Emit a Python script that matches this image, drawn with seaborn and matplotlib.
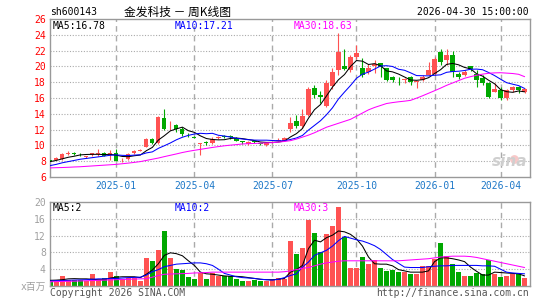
import matplotlib
matplotlib.use("Agg")
import matplotlib.pyplot as plt
import seaborn as sns
import numpy as np
import pandas as pd

# weekly candles (index 0 .. 79)
opens = [8.1, 8.15, 8.3, 8.95, 9.1, 8.9, 8.55, 8.8, 8.95, 9.1,
         8.9, 9.1, 8.1, 8.25, 9.0, 9.35, 9.85, 10.8, 10.35, 13.45,
         12.4, 12.6, 12.05, 11.35, 11.1, 10.2, 10.4, 10.25, 10.95, 11.15,
         11.2, 11.0, 10.5, 10.2, 10.5, 10.25, 10.05, 10.4, 10.6, 10.6,
         12.05, 13.1, 12.4, 13.85, 17.3, 16.4, 15.0, 17.5, 19.55, 20.1,
         19.55, 21.25, 19.75, 19.35, 20.1, 20.4, 19.75, 18.6, 18.4, 18.3,
         18.6, 18.0, 18.3, 18.9, 19.0, 21.85, 20.75, 21.45, 19.1, 18.9,
         20.05, 19.0, 18.5, 17.85, 16.8, 16.95, 16.0, 16.95, 17.45, 16.8]
closes = [8.0, 8.35, 8.9, 9.05, 8.85, 8.85, 8.6, 9.0, 9.05, 8.7,
          9.0, 8.05, 8.2, 8.9, 9.3, 9.45, 10.8, 10.3, 13.55, 12.05,
          12.5, 12.05, 11.4, 11.3, 11.0, 10.3, 10.35, 10.8, 11.05, 11.1,
          11.1, 10.6, 10.45, 10.45, 10.45, 10.2, 10.35, 10.45, 10.7, 11.0,
          12.85, 12.45, 13.7, 17.2, 16.4, 16.1, 17.9, 19.3, 21.85, 19.7,
          21.2, 21.65, 18.9, 19.75, 20.25, 19.95, 18.3, 18.3, 18.35, 18.4,
          18.05, 18.1, 18.7, 19.6, 21.0, 20.5, 21.45, 19.35, 18.7, 19.35,
          19.65, 18.3, 17.85, 16.1, 17.1, 15.95, 17.0, 17.45, 16.95, 17.2]
highs = [8.2, 8.5, 9.0, 9.25, 9.2, 9.0, 8.7, 9.1, 9.6, 9.2,
         9.4, 9.5, 8.35, 9.0, 9.4, 9.6, 10.9, 10.9, 13.7, 14.6,
         13.1, 12.7, 12.3, 11.55, 11.2, 10.35, 10.5, 11.0, 11.25, 11.3,
         11.3, 11.1, 10.6, 10.55, 10.55, 10.3, 10.4, 10.55, 10.9, 11.1,
         13.55, 13.9, 14.55, 17.4, 17.7, 16.9, 18.25, 19.8, 24.25, 22.15,
         21.5, 22.75, 21.0, 20.3, 20.8, 20.45, 19.85, 18.75, 18.6, 18.5,
         18.75, 18.15, 18.85, 20.6, 21.2, 22.2, 22.15, 21.95, 19.3, 19.5,
         20.1, 19.5, 18.9, 18.0, 17.85, 17.4, 17.2, 17.5, 17.5, 17.3]
lows = [7.9, 8.1, 8.2, 8.8, 8.8, 8.7, 8.45, 8.7, 8.7, 8.6,
        8.15, 8.0, 7.9, 8.1, 8.95, 9.3, 9.8, 10.2, 10.2, 11.95,
        11.9, 11.7, 11.2, 11.1, 10.9, 8.8, 10.0, 10.2, 10.8, 10.95,
        10.85, 10.5, 10.15, 10.1, 10.3, 10.0, 9.9, 10.3, 10.5, 10.5,
        11.75, 12.25, 12.2, 13.7, 15.95, 15.35, 14.8, 17.2, 18.9, 19.5,
        19.3, 20.95, 18.7, 19.1, 19.2, 18.7, 18.2, 18.0, 17.65, 17.85,
        17.7, 17.25, 18.2, 18.85, 18.9, 20.2, 20.2, 18.6, 18.35, 18.8,
        19.4, 17.45, 17.6, 16.0, 16.7, 15.8, 15.8, 16.8, 16.6, 16.6]

ma5 = [7.95, 8.1, 8.3, 8.5, 8.63, 8.8, 8.85, 8.87, 8.87, 8.84,
       8.87, 8.76, 8.6, 8.57, 8.69, 8.78, 9.33, 9.75, 10.68, 11.23,
       11.84, 12.09, 12.31, 11.86, 11.65, 11.21, 10.87, 10.75, 10.7, 10.72,
       10.88, 10.93, 10.86, 10.74, 10.61, 10.43, 10.38, 10.38, 10.43, 10.54,
       11.07, 11.49, 12.14, 13.44, 14.52, 15.17, 16.26, 17.38, 18.31, 18.97,
       19.99, 20.74, 20.66, 20.24, 20.35, 20.1, 19.43, 19.31, 19.03, 18.66,
       18.28, 18.24, 18.32, 18.57, 19.09, 19.58, 20.25, 20.38, 20.2, 19.87,
       19.7, 19.07, 18.77, 18.25, 17.8, 17.06, 16.8, 16.72, 16.89, 16.78]
ma10 = [7.45, 7.6, 7.8, 7.95, 8.1, 8.25, 8.35, 8.45, 8.55, 8.65,
        8.75, 8.8, 8.74, 8.72, 8.77, 8.82, 9.05, 9.18, 9.63, 9.96,
        10.31, 10.71, 11.03, 11.27, 11.44, 11.53, 11.48, 11.53, 11.28, 11.19,
        11.05, 10.9, 10.81, 10.72, 10.67, 10.66, 10.66, 10.62, 10.59, 10.58,
        10.75, 10.94, 11.26, 11.94, 12.53, 13.12, 13.88, 14.76, 15.88, 16.75,
        17.58, 18.5, 19.02, 19.28, 19.66, 20.05, 20.09, 19.99, 19.64, 19.51,
        19.19, 18.84, 18.82, 18.8, 18.88, 18.93, 19.25, 19.35, 19.39, 19.48,
        19.64, 19.66, 19.58, 19.23, 18.84, 18.38, 17.94, 17.75, 17.57, 17.21]
ma30 = [7.15, 7.18, 7.2, 7.23, 7.27, 7.3, 7.35, 7.4, 7.45, 7.5,
        7.55, 7.6, 7.68, 7.76, 7.85, 7.95, 8.1, 8.25, 8.4, 8.58,
        8.75, 8.92, 9.1, 9.25, 9.38, 9.5, 9.62, 9.74, 9.85, 9.95,
        10.03, 10.1, 10.18, 10.22, 10.25, 10.28, 10.32, 10.35, 10.42, 10.5,
        10.6, 10.8, 11.05, 11.3, 11.6, 11.95, 12.3, 12.55, 12.8, 13.05,
        13.3, 13.7, 14.1, 14.5, 14.8, 15.05, 15.3, 15.42, 15.52, 15.6,
        15.7, 15.98, 16.28, 16.6, 16.92, 17.25, 17.6, 17.9, 18.2, 18.5,
        18.7, 18.88, 19.02, 19.13, 19.18, 19.2, 19.15, 19.1, 19.0, 18.7]

# volume in millions
volume = [1.2, 1.3, 2.5, 1.5, 1.5, 1.5, 1.2, 2.8, 1.4, 1.8,
          3.4, 2.5, 1.6, 2.0, 2.0, 1.2, 6.6, 5.9, 8.5, 13.2,
          6.6, 4.0, 3.7, 2.1, 1.6, 3.2, 1.6, 3.2, 2.4, 2.5,
          2.3, 1.6, 1.3, 1.1, 1.5, 1.2, 1.2, 1.4, 2.0, 1.7,
          10.6, 7.7, 9.0, 15.6, 12.7, 8.1, 12.3, 14.2, 18.8, 11.7,
          4.3, 4.4, 6.8, 5.2, 6.3, 4.2, 3.5, 3.7, 3.3, 3.3,
          2.8, 2.8, 4.7, 4.7, 6.5, 10.2, 7.1, 5.2, 3.3, 2.5,
          2.5, 3.1, 2.8, 6.3, 2.8, 2.1, 2.3, 2.9, 2.9, 1.9]
vol_ma5 = [1.35, 1.4, 1.5, 1.7, 1.75, 1.7, 1.7, 1.6, 1.5, 1.5,
           1.9, 2.1, 2.2, 2.2, 2.2, 2.0, 2.8, 3.8, 5.3, 7.3,
           7.9, 7.7, 7.2, 6.0, 4.9, 3.3, 2.9, 2.8, 2.6, 2.4,
           2.3, 2.3, 2.2, 2.0, 1.8, 1.6, 1.5, 1.5, 1.6, 1.8,
           3.3, 3.9, 4.9, 8.9, 10.9, 10.5, 11.5, 12.1, 13.1, 12.9,
           12.3, 11.2, 9.5, 6.9, 5.3, 5.2, 5.2, 4.8, 3.9, 3.6,
           3.3, 3.3, 3.3, 3.6, 5.8, 6.7, 6.7, 6.5, 6.2, 5.8,
           4.5, 3.5, 2.6, 2.6, 3.3, 3.2, 3.1, 3.0, 2.9, 2.4]
vol_ma10 = [1.2, 1.25, 1.3, 1.35, 1.4, 1.45, 1.5, 1.6, 1.7, 1.7,
            1.75, 1.8, 1.9, 2.0, 2.05, 2.1, 2.6, 3.4, 3.9, 4.6,
            4.9, 5.2, 5.3, 5.4, 5.5, 5.5, 5.3, 4.9, 4.0, 3.0,
            2.6, 2.2, 2.0, 1.9, 1.8, 1.6, 1.5, 1.4, 1.6, 2.0,
            2.5, 2.9, 4.5, 5.7, 7.3, 7.9, 8.5, 9.5, 10.8, 11.8,
            11.4, 11.0, 10.7, 10.2, 9.6, 8.7, 7.5, 6.3, 5.4, 4.5,
            4.4, 4.4, 4.4, 4.6, 4.7, 4.8, 4.8, 4.9, 4.9, 4.9,
            4.9, 4.9, 4.8, 4.8, 4.7, 4.0, 3.3, 3.1, 3.0, 2.9]
vol_ma30 = [1.0, 1.05, 1.1, 1.12, 1.15, 1.2, 1.25, 1.3, 1.35, 1.4,
            1.45, 1.5, 1.55, 1.6, 1.65, 1.7, 1.75, 2.1, 2.5, 2.8,
            2.85, 2.9, 2.95, 3.0, 3.1, 3.15, 3.2, 3.3, 3.3, 3.3,
            3.3, 3.3, 3.3, 3.3, 3.3, 3.3, 3.3, 3.3, 3.3, 3.4,
            3.6, 3.9, 4.2, 4.4, 4.8, 5.2, 5.5, 5.7, 5.9, 6.0,
            6.0, 6.0, 6.0, 6.0, 6.0, 6.0, 6.0, 6.0, 6.0, 6.1,
            6.2, 6.3, 6.4, 6.5, 6.7, 6.9, 7.0, 7.1, 7.1, 7.1,
            7.0, 6.8, 6.5, 6.2, 5.9, 5.6, 5.3, 5.0, 4.7, 4.4]

month_labels = ["2025-01", "2025-04", "2025-07", "2025-10", "2026-01", "2026-04"]
month_pos = [11, 24, 37, 51, 64, 75]

RED = "#FF5252"
GREEN = "#00A800"
GRID = "#AAAAAA"
FRAME = "#999999"

sns.set_style("white")
plt.rcParams["font.family"] = ["DejaVu Sans Mono", "Noto Sans CJK SC"]

df = pd.DataFrame({"i": np.arange(len(closes)), "open": opens, "close": closes,
                   "high": highs, "low": lows, "vol": volume,
                   "ma5": ma5, "ma10": ma10, "ma30": ma30,
                   "vma5": vol_ma5, "vma10": vol_ma10, "vma30": vol_ma30})
up = df["close"] >= df["open"]
colors = np.where(up, RED, GREEN)

W, H = 545, 300
fig = plt.figure(figsize=(W / 100, H / 100), dpi=100)
ax = fig.add_axes([50 / W, 1 - 177 / H, 480 / W, 158 / H])
axv = fig.add_axes([50 / W, 1 - 286 / H, 480 / W, 84 / H])

def style_axis(a):
    for s in a.spines.values():
        s.set_color(FRAME)
        s.set_linewidth(1)
    a.set_xlim(-0.05, 79.9)
    for p in month_pos:
        a.axvline(p, color=GRID, lw=1, dashes=(4, 3), zorder=0)

# price panel
style_axis(ax)
ax.set_ylim(6, 26)
for y in range(8, 26, 2):
    ax.axhline(y, color=GRID, lw=0.8, dashes=(1, 1.5), zorder=0)
ax.vlines(df["i"], df["low"], df["high"], colors=colors, lw=0.8, zorder=2)
body = (df["close"] - df["open"]).abs().clip(lower=0.07)
ax.bar(df["i"], body, bottom=np.minimum(df["open"], df["close"]),
       width=0.7, color=colors, linewidth=0, zorder=3)
sns.lineplot(data=df, x="i", y="ma5", ax=ax, color="black", lw=0.75, zorder=4)
sns.lineplot(data=df, x="i", y="ma10", ax=ax, color="#0000FF", lw=0.75, zorder=4)
sns.lineplot(data=df, x="i", y="ma30", ax=ax, color="#FF00FF", lw=0.75, zorder=4)
ax.set_xlabel("")
ax.set_ylabel("")
ax.set_yticks(range(6, 27, 2))
ax.set_yticklabels([str(v) for v in range(6, 27, 2)], color="#FF0000", fontsize=7)
ax.set_xticks(month_pos)
ax.set_xticklabels(month_labels, color="#1E78C8", fontsize=7)
ax.tick_params(length=0, pad=3)
ax.text(0.006, 0.99, "MA5:16.78", transform=ax.transAxes, va="top", fontsize=7, color="black")
ax.text(0.26, 0.99, "MA10:17.21", transform=ax.transAxes, va="top", fontsize=7, color="#0000FF")
ax.text(0.508, 0.99, "MA30:18.63", transform=ax.transAxes, va="top", fontsize=7, color="#FF00FF")
ax.text(0.995, 0.1, "sina", transform=ax.transAxes, ha="right", va="center",
        fontsize=11, fontweight="bold", style="italic", color="#CFCFCF",
        family="DejaVu Sans")
ax.scatter([77.2], [8.3], s=40, color="#F8C8C8", zorder=1, linewidths=0)

# volume panel
style_axis(axv)
axv.set_ylim(0, 20)
for y in range(4, 20, 4):
    axv.axhline(y, color=GRID, lw=0.8, dashes=(1, 1.5), zorder=0)
axv.bar(df["i"], df["vol"], width=0.82, color=colors, linewidth=0, zorder=2)
sns.lineplot(data=df, x="i", y="vma5", ax=axv, color="black", lw=0.75, zorder=4)
sns.lineplot(data=df, x="i", y="vma10", ax=axv, color="#0000FF", lw=0.75, zorder=4)
sns.lineplot(data=df, x="i", y="vma30", ax=axv, color="#FF00FF", lw=0.75, zorder=4)
axv.set_xlabel("")
axv.set_ylabel("")
axv.set_xticks([])
axv.set_yticks([0, 4, 8, 12, 16, 20])
axv.set_yticklabels(["x百万", "4", "8", "12", "16", "20"], color="#A0A0A0", fontsize=7)
axv.tick_params(length=0, pad=3)
axv.text(0.006, 0.985, "MA5:2", transform=axv.transAxes, va="top", fontsize=7, color="black")
axv.text(0.26, 0.985, "MA10:2", transform=axv.transAxes, va="top", fontsize=7, color="#0000FF")
axv.text(0.508, 0.985, "MA30:3", transform=axv.transAxes, va="top", fontsize=7, color="#FF00FF")

# header and footer
fig.text(50 / W, 1 - 12 / H, "sh600143", fontsize=7, va="center", color="black")
fig.text(178 / W, 1 - 12 / H, "金发科技 － 周K线图", fontsize=8.5, va="center", ha="center",
         family=["Noto Sans CJK SC", "DejaVu Sans"], color="black")
fig.text(529 / W, 1 - 12 / H, "2026-04-30 15:00:00", fontsize=7, va="center", ha="right", color="black")
fig.text(50 / W, 1 - 293 / H, "Copyright 2026 SINA.COM", fontsize=7, va="center", color="#555555")
fig.text(529 / W, 1 - 293 / H, "http://finance.sina.com.cn", fontsize=7, va="center", ha="right", color="#555555")

fig.savefig("out.png", dpi=100, facecolor="white")
